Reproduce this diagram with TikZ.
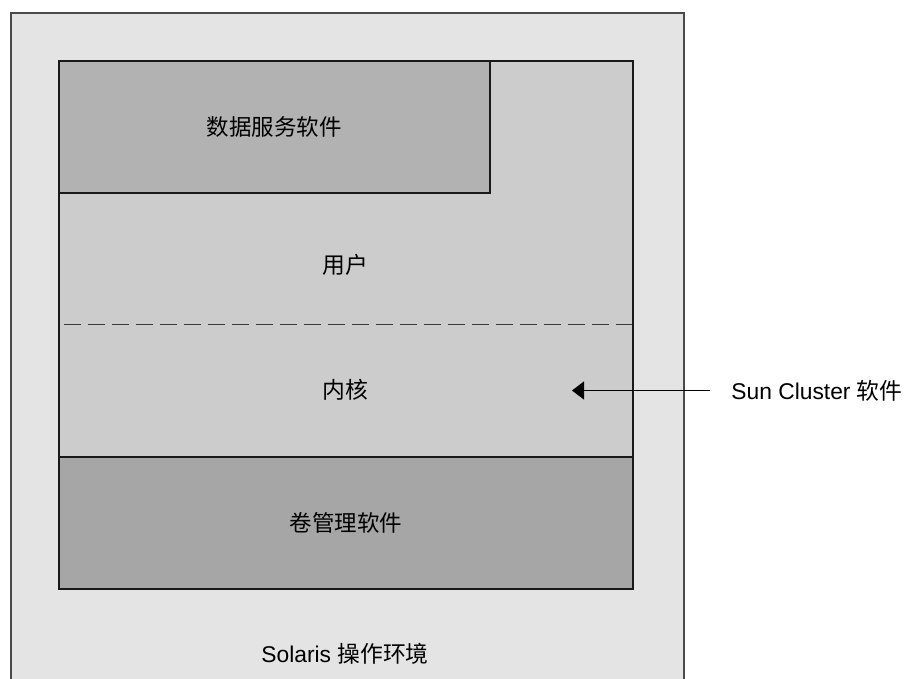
\documentclass[tikz,border=0pt]{standalone}
\usepackage{fontspec}
\setmainfont{Liberation Sans}
\newfontfamily\cjk{Noto Sans CJK SC}
\usetikzlibrary{arrows.meta,positioning}
\definecolor{envgray}{HTML}{E4E4E4}
\definecolor{envline}{HTML}{4A4A4A}
\definecolor{coregray}{HTML}{CCCCCC}
\definecolor{datagray}{HTML}{B2B2B2}
\definecolor{volgray}{HTML}{A6A6A6}
\tikzstyle{box} = [draw=black!90, line width=1.6pt, inner sep=0pt, anchor=north west, font=\fontsize{22.5}{27}\selectfont]
\tikzstyle{lbl} = [font=\fontsize{22.8}{27}\selectfont]
\tikzstyle{split} = [draw=black!78, line width=1.8pt, dash pattern=on 17pt off 7pt]
\tikzstyle{arrow} = [line width=1.3pt, -{Triangle[length=12pt,width=18pt]}]

\begin{document}
\begin{tikzpicture}[x=1pt,y=-1pt]
\useasboundingbox (0,0) rectangle (908,678);
\clip (0,0) rectangle (908,678);
\draw (10,12) node (env) [box, draw=envline, line width=1.5pt, fill=envgray, minimum width=673, minimum height=700] {};
\draw (58,60) node (inner) [box, fill=coregray, minimum width=574, minimum height=528] {};
\draw (58,60) node (data) [box, fill=datagray, minimum width=431, minimum height=132] {\cjk 数据服务软件};
\draw (58,456) node (vol) [box, fill=volgray, minimum width=574, minimum height=132] {\cjk 卷管理软件};
\draw [split] (64,324.5) -- (632,324.5);
%
\node (user) at (345,265) [lbl] {\cjk 用户};
\node (kern) at (345,390) [lbl] {\cjk 内核};
\node (os) at (345,654) [lbl] {Solaris {\cjk 操作环境}};
\node (sc) at (817,390.5) [lbl] {Sun Cluster {\cjk 软件}};
\coordinate (tip) at (572,390.5);
\draw [arrow] ([xshift=-18]sc.west) -- (tip);
\end{tikzpicture}
\end{document}
